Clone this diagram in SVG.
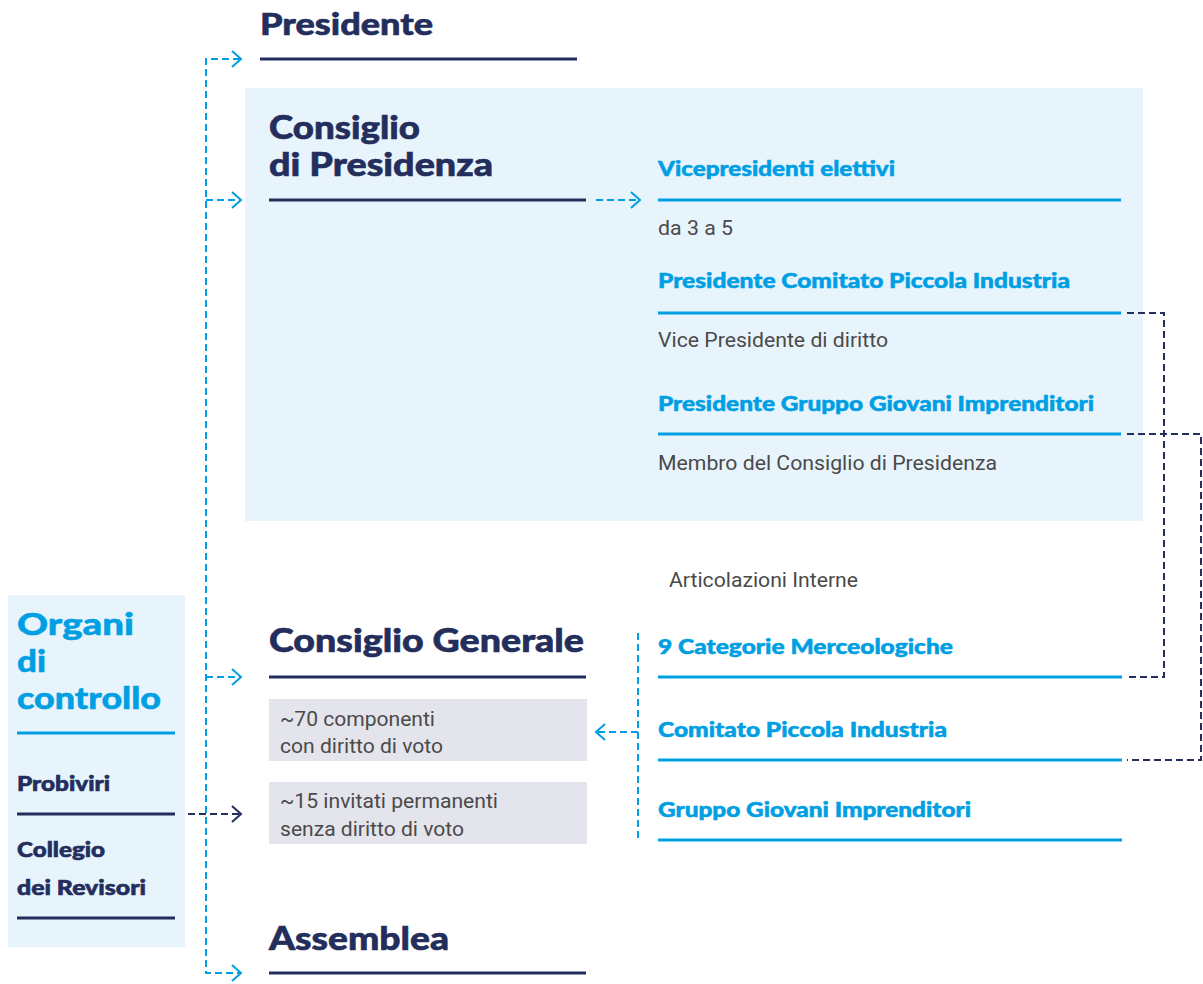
<svg xmlns="http://www.w3.org/2000/svg" width="1203" height="984" viewBox="0 0 1203 984">
<style>
.h{font-family:"Lato","Liberation Sans",sans-serif;font-weight:900;fill:#232e5c;stroke:#232e5c;stroke-width:0.6}
.hb{font-family:"Lato","Liberation Sans",sans-serif;font-weight:900;fill:#009fe3;stroke:#009fe3;stroke-width:0.5}
.t{font-family:"Roboto","Liberation Sans",sans-serif;fill:#4a4a4a;font-size:20px}
.ln{stroke:#232e5c;stroke-width:3}
.lb{stroke:#009fe3;stroke-width:3}
.db{fill:none;stroke:#009fe3;stroke-width:2;stroke-dasharray:7 4}
.dn{fill:none;stroke:#232e5c;stroke-width:2;stroke-dasharray:7 4}
.ab{fill:none;stroke:#009fe3;stroke-width:2}
.an{fill:none;stroke:#232e5c;stroke-width:2}
</style>
<rect x="0" y="0" width="1203" height="984" fill="#fff"/>
<g id="presidente">
<text class="h" x="260" y="35" font-size="31" textLength="173" lengthAdjust="spacingAndGlyphs">Presidente</text>
<line class="ln" x1="260" y1="59" x2="577" y2="59"/>
</g>
<g id="consiglio-presidenza">
<rect x="245" y="88" width="898" height="433" fill="#e8f4fc"/>
<text class="h" x="269" y="139" font-size="32" textLength="151" lengthAdjust="spacingAndGlyphs">Consiglio</text>
<text class="h" x="269" y="176" font-size="32" textLength="224" lengthAdjust="spacingAndGlyphs">di Presidenza</text>
<line class="ln" x1="269" y1="200" x2="586" y2="200"/>
</g>
<g id="vicepresidenti">
<text class="hb" x="658" y="176" font-size="20" textLength="237" lengthAdjust="spacingAndGlyphs">Vicepresidenti elettivi</text>
<line class="lb" x1="658" y1="200" x2="1121" y2="200"/>
<text class="t" x="658" y="235" textLength="75" lengthAdjust="spacingAndGlyphs">da 3 a 5</text>
</g>
<g id="pres-cpi">
<text class="hb" x="658" y="288" font-size="20" textLength="412" lengthAdjust="spacingAndGlyphs">Presidente Comitato Piccola Industria</text>
<line class="lb" x1="658" y1="313" x2="1121" y2="313"/>
<text class="t" x="658" y="347" textLength="230" lengthAdjust="spacingAndGlyphs">Vice Presidente di diritto</text>
</g>
<g id="pres-ggi">
<text class="hb" x="658" y="411" font-size="20" textLength="436" lengthAdjust="spacingAndGlyphs">Presidente Gruppo Giovani Imprenditori</text>
<line class="lb" x1="658" y1="434" x2="1121" y2="434"/>
<text class="t" x="658" y="470" textLength="339" lengthAdjust="spacingAndGlyphs">Membro del Consiglio di Presidenza</text>
</g>
<g id="articolazioni">
<text class="t" x="669" y="587" textLength="189" lengthAdjust="spacingAndGlyphs">Articolazioni Interne</text>
<text class="hb" x="658" y="654" font-size="20" textLength="295" lengthAdjust="spacingAndGlyphs">9 Categorie Merceologiche</text>
<line class="lb" x1="658" y1="677" x2="1122" y2="677"/>
<text class="hb" x="658" y="737" font-size="20" textLength="289" lengthAdjust="spacingAndGlyphs">Comitato Piccola Industria</text>
<line class="lb" x1="658" y1="760" x2="1122" y2="760"/>
<text class="hb" x="658" y="817" font-size="20" textLength="313" lengthAdjust="spacingAndGlyphs">Gruppo Giovani Imprenditori</text>
<line class="lb" x1="658" y1="840" x2="1122" y2="840"/>
</g>
<g id="consiglio-generale">
<text class="h" x="269" y="652" font-size="32" textLength="315" lengthAdjust="spacingAndGlyphs">Consiglio Generale</text>
<line class="ln" x1="269" y1="677" x2="586" y2="677"/>
<rect x="269" y="699" width="318" height="62" fill="#e4e4ec"/>
<text class="t" x="280" y="726" textLength="155" lengthAdjust="spacingAndGlyphs">~70 componenti</text>
<text class="t" x="280" y="753" textLength="163" lengthAdjust="spacingAndGlyphs">con diritto di voto</text>
<rect x="269" y="782" width="318" height="62" fill="#e4e4ec"/>
<text class="t" x="280" y="808" textLength="218" lengthAdjust="spacingAndGlyphs">~15 invitati permanenti</text>
<text class="t" x="280" y="836" textLength="184" lengthAdjust="spacingAndGlyphs">senza diritto di voto</text>
</g>
<g id="assemblea">
<text class="h" x="269" y="950" font-size="32" textLength="180" lengthAdjust="spacingAndGlyphs">Assemblea</text>
<line class="ln" x1="269" y1="973" x2="586" y2="973"/>
</g>
<g id="organi">
<rect x="8" y="595" width="177" height="352" fill="#e8f4fc"/>
<text class="hb" x="17" y="635" font-size="31" textLength="117" lengthAdjust="spacingAndGlyphs">Organi</text>
<text class="hb" x="17" y="672" font-size="31" textLength="29" lengthAdjust="spacingAndGlyphs">di</text>
<text class="hb" x="17" y="709" font-size="31" textLength="144" lengthAdjust="spacingAndGlyphs">controllo</text>
<line class="lb" x1="17" y1="733" x2="175" y2="733"/>
<text class="h" x="17" y="791" font-size="20" textLength="93" lengthAdjust="spacingAndGlyphs">Probiviri</text>
<line class="ln" x1="17" y1="814" x2="175" y2="814"/>
<text class="h" x="17" y="857" font-size="20" textLength="88" lengthAdjust="spacingAndGlyphs">Collegio</text>
<text class="h" x="17" y="895" font-size="20" textLength="129" lengthAdjust="spacingAndGlyphs">dei Revisori</text>
<line class="ln" x1="17" y1="918" x2="175" y2="918"/>
</g>
<g id="connectors">
<path class="db" d="M240 59 H206 V973 H240"/>
<path class="db" d="M206 200 H240"/>
<path class="db" d="M206 677 H240"/>
<path class="ab" d="M232 51 L241 59 L232 67"/>
<path class="ab" d="M232 192 L241 200 L232 208"/>
<path class="ab" d="M232 669 L241 677 L232 685"/>
<path class="ab" d="M232 965 L241 973 L232 981"/>
<path class="db" d="M596 200 H639"/>
<path class="ab" d="M631 192 L640 200 L631 208"/>
<path class="db" d="M638 633 V842"/>
<path class="db" d="M638 732 H597"/>
<path class="ab" d="M605 724 L596 732 L605 740"/>
<path class="dn" d="M188 814 H240"/>
<path class="an" d="M232 806 L241 814 L232 822"/>
<path class="dn" d="M1127 313 H1164 V677 H1127"/>
<path class="dn" d="M1127 434 H1201 V760 H1127"/>
</g>
</svg>
